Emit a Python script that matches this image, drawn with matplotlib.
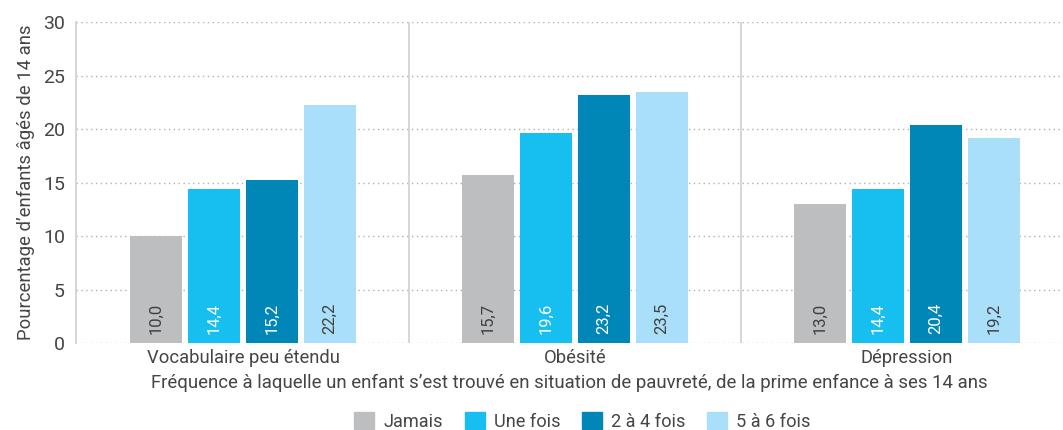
import numpy as np
import matplotlib.pyplot as plt
from matplotlib.patches import Patch

plt.rcParams['font.family'] = ['Roboto', 'DejaVu Sans']

categories = ['Vocabulaire peu étendu', 'Obésité', 'Dépression']
series_names = ['Jamais', 'Une fois', '2 à 4 fois', '5 à 6 fois']
jamais = [10.0, 15.7, 13.0]
une_fois = [14.4, 19.6, 14.4]
deux_quatre = [15.2, 23.2, 20.4]
cinq_six = [22.2, 23.5, 19.2]
series = [jamais, une_fois, deux_quatre, cinq_six]

colors = ['#bcbec0', '#17bff0', '#0087b7', '#aadff9']
label_colors = ['#404040', 'white', 'white', '#404040']
txt = '#454545'

fig = plt.figure(figsize=(10.63, 4.30), dpi=100)
ax = fig.add_axes([0.0715, 0.2023, 0.9285, 0.7465])

x = np.arange(len(categories))
width = 0.157
step = 0.1747
for i, vals in enumerate(series):
    pos = x + (i - 1.5) * step
    ax.bar(pos, vals, width, color=colors[i], zorder=3)
    for p, v in zip(pos, vals):
        ax.text(p, 0.8, f'{v:.1f}'.replace('.', ','), rotation=90,
                ha='center', va='bottom', fontsize=12, color=label_colors[i], zorder=4)

ax.set_xlim(-0.503, 2.47)
ax.set_ylim(0, 30)
ax.set_yticks(range(0, 31, 5))
ax.yaxis.grid(True, linestyle=(0, (1, 2.5)), color='#b0b0b0', linewidth=1)
ax.set_axisbelow(True)
for sep in [0.5, 1.5]:
    ax.axvline(sep, color='#d0d0d0', linewidth=1.2, zorder=2)

for s in ['top', 'right', 'bottom']:
    ax.spines[s].set_visible(False)
ax.spines['left'].set_color('#d0d0d0')
ax.spines['left'].set_linewidth(1.2)

ax.set_xticks(x)
ax.set_xticklabels(categories, fontsize=13.2, color=txt)
ax.tick_params(axis='x', length=0, pad=4)
ax.tick_params(axis='y', length=0, labelsize=14, labelcolor=txt, pad=8)

ax.set_xlabel('Fréquence à laquelle un enfant s\u2019est trouvé en situation de pauvreté, de la prime enfance à ses 14 ans',
              fontsize=13.4, color=txt, labelpad=5)
ax.set_ylabel('Pourcentage d\u2019enfants âgés de 14 ans', fontsize=13.3, color=txt, labelpad=6)

handles = [Patch(color=c, label=n) for c, n in zip(colors, series_names)]
fig.legend(handles=handles, loc='lower center', bbox_to_anchor=(0.548, -0.04), ncol=4,
           frameon=False, fontsize=13.1, handlelength=1.1, handleheight=1.1,
           handletextpad=0.5, columnspacing=1.2, labelcolor=txt)

fig.savefig('out.png', dpi=100)
